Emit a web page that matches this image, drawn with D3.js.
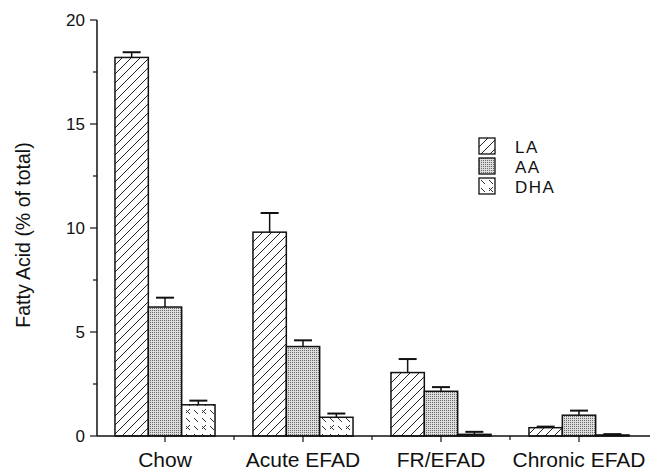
<!DOCTYPE html>
<html lang="en">
<head>
<meta charset="utf-8">
<title>Fatty acid composition</title>
<script src="https://d3js.org/d3.v7.min.js"></script>
<style>
  body { margin: 0; background: #fff; }
  text { font-family: "Liberation Sans", Arial, sans-serif; fill: #111; }
  .tick-label { font-size: 17px; }
  .cat-label { font-size: 21px; }
  .axis-title { font-size: 19.5px; }
  .legend-label { font-size: 17px; letter-spacing: 1.5px; }
</style>
</head>
<body>
<div id="chart"></div>
<script>
// data
var categories = ["Chow", "Acute EFAD", "FR/EFAD", "Chronic EFAD"];
var seriesNames = ["LA", "AA", "DHA"];
var laMean  = [18.2, 9.8, 3.05, 0.4];
var laErr   = [0.25, 0.92, 0.65, 0.05];
var aaMean  = [6.2, 4.3, 2.15, 1.0];
var aaErr   = [0.45, 0.3, 0.2, 0.22];
var dhaMean = [1.5, 0.9, 0.08, 0.05];
var dhaErr  = [0.2, 0.18, 0.12, 0.04];
var yTicks = [0, 5, 10, 15, 20];
var yMinor = [2.5, 7.5, 12.5, 17.5];

var means = { LA: laMean, AA: aaMean, DHA: dhaMean };
var errs  = { LA: laErr,  AA: aaErr,  DHA: dhaErr };

var W = 650, H = 470;
var axisX = 97, axisY = 436;

var svg = d3.select("#chart").append("svg")
    .attr("width", W).attr("height", H);

// fill patterns
var defs = svg.append("defs");

var pLA = defs.append("pattern").attr("id", "pat-LA")
    .attr("patternUnits", "userSpaceOnUse")
    .attr("width", 9).attr("height", 9);
pLA.append("rect").attr("width", 9).attr("height", 9).attr("fill", "#fff");
pLA.append("path").attr("d", "M-1,10 L10,-1 M-2,2 L2,-2 M7,11 L11,7")
    .attr("stroke", "#222").attr("stroke-width", 1);

var pAA = defs.append("pattern").attr("id", "pat-AA")
    .attr("patternUnits", "userSpaceOnUse")
    .attr("width", 2).attr("height", 2);
pAA.append("rect").attr("width", 2).attr("height", 2).attr("fill", "#dcdcdc");
pAA.append("rect").attr("width", 1).attr("height", 1).attr("fill", "#6a6a6a");

var pDHA = defs.append("pattern").attr("id", "pat-DHA")
    .attr("patternUnits", "userSpaceOnUse")
    .attr("width", 16).attr("height", 16);
pDHA.append("rect").attr("width", 16).attr("height", 16).attr("fill", "#fff");
pDHA.append("path")
    .attr("d", "M2,2 L6,6 M10,10 L14,14 M10,2 L14,6 M14,9 L10,13 M2,10 L6,14")
    .attr("stroke", "#333").attr("stroke-width", 1);

// scales
var y = d3.scaleLinear().domain([0, 20]).range([axisY, 20]);

var x0 = d3.scaleBand().domain(categories)
    .range([96, 648])
    .paddingInner(0.275)
    .paddingOuter(0.1375);

var x1 = d3.scaleBand().domain(seriesNames)
    .range([0, x0.bandwidth()]);

// bars
var rows = [];
categories.forEach(function (c, i) {
  seriesNames.forEach(function (s) {
    rows.push({ cat: c, series: s, value: means[s][i], err: errs[s][i] });
  });
});

function mid(d) { return x0(d.cat) + x1(d.series) + x1.bandwidth() / 2; }

svg.append("g").selectAll("rect")
  .data(rows)
  .join("rect")
    .attr("x", function (d) { return x0(d.cat) + x1(d.series); })
    .attr("y", function (d) { return y(d.value); })
    .attr("width", x1.bandwidth())
    .attr("height", function (d) { return y(0) - y(d.value); })
    .attr("fill", function (d) { return "url(#pat-" + d.series + ")"; })
    .attr("stroke", "#111")
    .attr("stroke-width", 1.5);

// error bars, upper side only
var eb = svg.append("g").attr("stroke", "#111");
eb.selectAll("line.v")
  .data(rows)
  .join("line").attr("class", "v")
    .attr("x1", mid).attr("x2", mid)
    .attr("y1", function (d) { return y(d.value); })
    .attr("y2", function (d) { return y(d.value + d.err); })
    .attr("stroke-width", 1.5);
eb.selectAll("line.cap")
  .data(rows)
  .join("line").attr("class", "cap")
    .attr("x1", function (d) { return mid(d) - 9; })
    .attr("x2", function (d) { return mid(d) + 9; })
    .attr("y1", function (d) { return y(d.value + d.err); })
    .attr("y2", function (d) { return y(d.value + d.err); })
    .attr("stroke-width", 2);

// y axis
var yAxis = svg.append("g").attr("transform", "translate(" + axisX + ",0)");
yAxis.append("line")
    .attr("y1", y(20)).attr("y2", y(0))
    .attr("stroke", "#111").attr("stroke-width", 1.5);
yAxis.selectAll("line.major").data(yTicks).join("line").attr("class", "major")
    .attr("x1", -7).attr("x2", 0)
    .attr("y1", function (d) { return y(d); }).attr("y2", function (d) { return y(d); })
    .attr("stroke", "#111").attr("stroke-width", 1.2);
yAxis.selectAll("line.minor").data(yMinor).join("line").attr("class", "minor")
    .attr("x1", -4).attr("x2", 0)
    .attr("y1", function (d) { return y(d); }).attr("y2", function (d) { return y(d); })
    .attr("stroke", "#111").attr("stroke-width", 1.2);
yAxis.selectAll("text").data(yTicks).join("text")
    .attr("class", "tick-label")
    .attr("x", -12)
    .attr("y", function (d) { return y(d); })
    .attr("dy", "0.36em")
    .attr("text-anchor", "end")
    .text(function (d) { return d; });

// x axis
var xAxis = svg.append("g");
xAxis.append("line")
    .attr("x1", axisX).attr("x2", W)
    .attr("y1", axisY).attr("y2", axisY)
    .attr("stroke", "#111").attr("stroke-width", 1.5);
xAxis.selectAll("line.ctr").data(categories).join("line").attr("class", "ctr")
    .attr("x1", function (d) { return x0(d) + x0.bandwidth() / 2; })
    .attr("x2", function (d) { return x0(d) + x0.bandwidth() / 2; })
    .attr("y1", axisY).attr("y2", axisY + 6)
    .attr("stroke", "#111").attr("stroke-width", 1.2);
xAxis.selectAll("line.sep").data(categories.slice(1)).join("line").attr("class", "sep")
    .attr("x1", function (d) { return x0(d) - x0.step() * x0.paddingInner() / 2; })
    .attr("x2", function (d) { return x0(d) - x0.step() * x0.paddingInner() / 2; })
    .attr("y1", axisY).attr("y2", axisY + 4)
    .attr("stroke", "#111").attr("stroke-width", 1.2);
xAxis.selectAll("text").data(categories).join("text")
    .attr("class", "cat-label")
    .attr("x", function (d) { return x0(d) + x0.bandwidth() / 2; })
    .attr("y", 467)
    .attr("text-anchor", "middle")
    .text(function (d) { return d; });

// y axis title
svg.append("text")
    .attr("class", "axis-title")
    .attr("transform", "translate(30,235) rotate(-90)")
    .attr("text-anchor", "middle")
    .text("Fatty Acid (% of total)");

// legend
var legend = svg.append("g").attr("transform", "translate(479,138)");
var lg = legend.selectAll("g").data(seriesNames).join("g")
    .attr("transform", function (d, i) { return "translate(0," + (i * 20) + ")"; });
lg.append("rect")
    .attr("width", 16).attr("height", 16)
    .attr("fill", function (d) { return "url(#pat-" + d + ")"; })
    .attr("stroke", "#111").attr("stroke-width", 1.3);
lg.append("text")
    .attr("class", "legend-label")
    .attr("x", 36).attr("y", 14.5)
    .text(function (d) { return d; });
</script>
</body>
</html>
